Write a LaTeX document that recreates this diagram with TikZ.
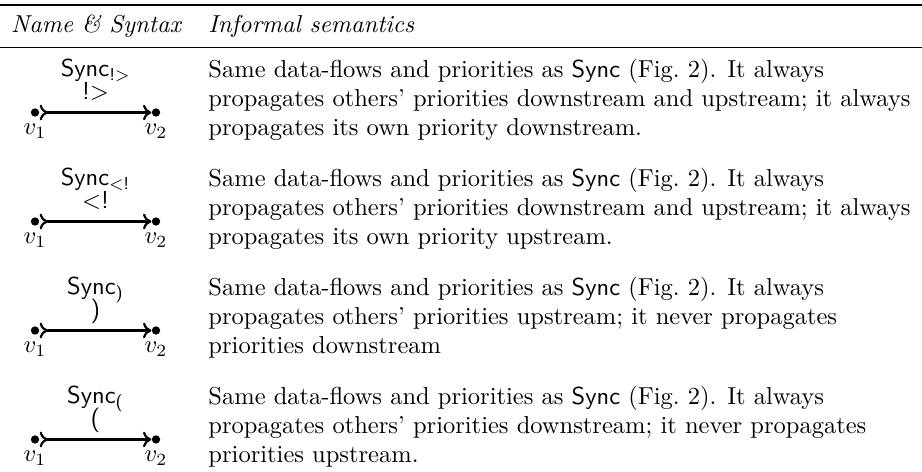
\documentclass[tikz,border=0pt]{standalone}
\usetikzlibrary{arrows.meta}
% operator name with a lowered sans-serif index
\newcommand{\opsync}[1]{\textsf{Sync}\raisebox{-1.6pt}{\scriptsize\sffamily #1}}
\begin{document}
\begin{tikzpicture}[x=0.4082pt, y=-0.4082pt,
  every node/.style={inner sep=0pt},
  head/.style={font=\itshape, anchor=base},
  opname/.style={anchor=base},
  endpt/.style={circle, fill=black, minimum size=3.4pt, inner sep=0pt},
  vlabel/.style={inner sep=2.7pt},
  link/.style={line width=0.9pt,
    {To[length=3.4pt,width=6.4pt,reversed]}-{To[length=3.4pt,width=6.4pt]}},
  tag/.style={font=\sffamily, anchor=base, yshift=5.2pt},
  desc/.style={anchor=base west, align=left}]
\useasboundingbox (0,0) rectangle (922,472);

% rules of the table
\draw[line width=0.8pt] (0,4.7) -- (922,4.7);
\draw[line width=0.5pt] (0,47.5) -- (922,47.5);

% header
\node[head] (h1) at (96,33) {Name \& Syntax};
\node[head, anchor=base west] (h2) at (208,33) {Informal semantics};

% row 1 (the anchor of a description is the baseline of its last line)
\node[opname] (s1) at (95,77) {\opsync{!>}};
\node[endpt, label={[vlabel]below:$v_1$}] (a1) at (35,112.5) {};
\node[endpt, label={[vlabel]below:$v_2$}] (b1) at (156,112.5) {};
\draw[link] (a1) -- node[tag] (t1) {!>} (b1);
\node[desc] (d1) at (208,135.8) {Same data-flows and priorities as \textsf{Sync} (Fig.~2). It always\\
propagates others’ priorities downstream and upstream; it always\\
propagates its own priority downstream.};

% row 2
\node[opname] (s2) at (95,186) {\opsync{<!}};
\node[endpt, label={[vlabel]below:$v_1$}] (a2) at (35,221.5) {};
\node[endpt, label={[vlabel]below:$v_2$}] (b2) at (156,221.5) {};
\draw[link] (a2) -- node[tag] (t2) {<!} (b2);
\node[desc] (d2) at (208,244.8) {Same data-flows and priorities as \textsf{Sync} (Fig.~2). It always\\
propagates others’ priorities downstream and upstream; it always\\
propagates its own priority upstream.};

% row 3
\node[opname] (s3) at (95,295) {\opsync{)}};
\node[endpt, label={[vlabel]below:$v_1$}] (a3) at (35,330.5) {};
\node[endpt, label={[vlabel]below:$v_2$}] (b3) at (156,330.5) {};
\draw[link] (a3) -- node[tag] (t3) {)} (b3);
\node[desc] (d3) at (208,353.8) {Same data-flows and priorities as \textsf{Sync} (Fig.~2). It always\\
propagates others’ priorities upstream; it never propagates\\
priorities downstream};

% row 4
\node[opname] (s4) at (95,404) {\opsync{(}};
\node[endpt, label={[vlabel]below:$v_1$}] (a4) at (35,439.5) {};
\node[endpt, label={[vlabel]below:$v_2$}] (b4) at (156,439.5) {};
\draw[link] (a4) -- node[tag] (t4) {(} (b4);
\node[desc] (d4) at (208,462.8) {Same data-flows and priorities as \textsf{Sync} (Fig.~2). It always\\
propagates others’ priorities downstream; it never propagates\\
priorities upstream.};
\end{tikzpicture}
\end{document}
